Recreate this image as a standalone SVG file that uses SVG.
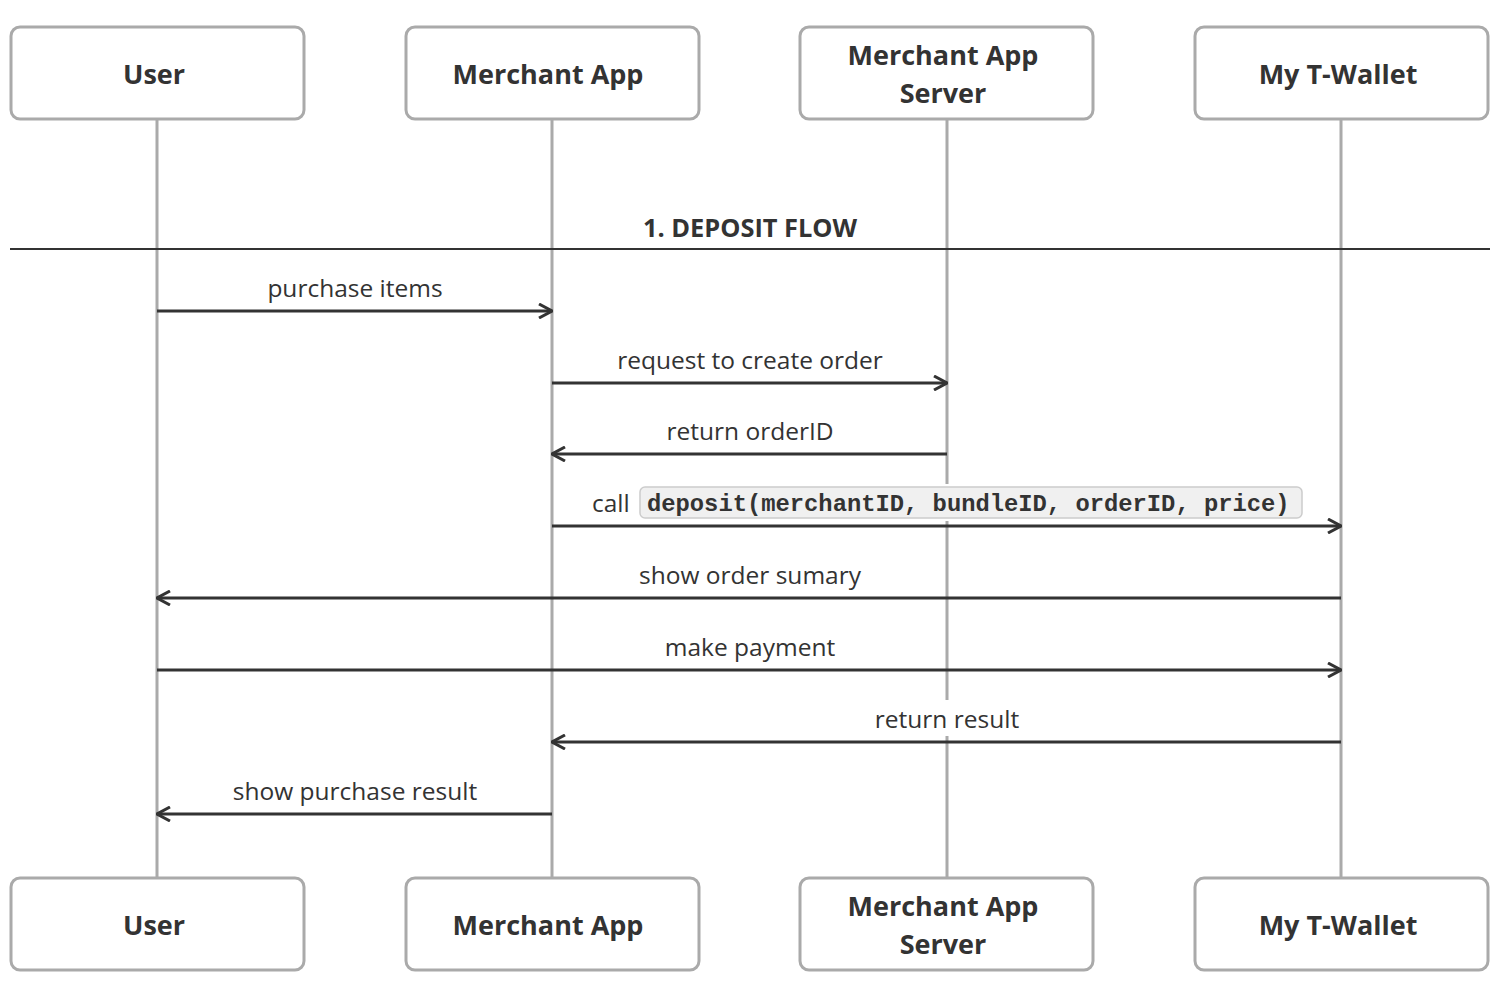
<svg xmlns="http://www.w3.org/2000/svg" width="1504" height="988" viewBox="0 0 1504 988">
<defs>
<style>
.box{fill:#fff;stroke:#aaa;stroke-width:3}
.life{stroke:#aaa;stroke-width:3}
.msg{stroke:#333;stroke-width:3;fill:none}
.nt{font-family:"Open Sans","Liberation Sans",sans-serif;font-weight:bold;font-size:27px;fill:#333;text-anchor:middle}
.lt{font-family:"Open Sans","Liberation Sans",sans-serif;font-size:24.5px;fill:#333;text-anchor:middle}
.code{font-family:"Liberation Mono",monospace;font-weight:bold;font-size:23.8px;fill:#333}
.bg{fill:#fff}
</style>
<marker id="ah" viewBox="0 0 16 16" refX="15" refY="8" markerWidth="16" markerHeight="16" markerUnits="userSpaceOnUse" orient="auto">
<path d="M2,1 L15,8 L2,15" fill="none" stroke="#333" stroke-width="3"/>
</marker>
</defs>
<rect width="1504" height="988" fill="#fff"/>
<g id="lifelines">
<line class="life" x1="157" y1="119" x2="157" y2="878"/>
<line class="life" x1="552" y1="119" x2="552" y2="878"/>
<line class="life" x1="947" y1="119" x2="947" y2="878"/>
<line class="life" x1="1341" y1="119" x2="1341" y2="878"/>
</g>
<g id="node-user-top"><rect class="box" x="11" y="27" width="293" height="92" rx="9"/><text class="nt" x="154" y="84">User</text></g>
<g id="node-app-top"><rect class="box" x="406" y="27" width="293" height="92" rx="9"/><text class="nt" x="548" y="84">Merchant App</text></g>
<g id="node-server-top"><rect class="box" x="800" y="27" width="293" height="92" rx="9"/><text class="nt" x="943" y="65">Merchant App</text><text class="nt" x="943" y="103">Server</text></g>
<g id="node-wallet-top"><rect class="box" x="1195" y="27" width="293" height="92" rx="9"/><text class="nt" x="1338" y="84">My T-Wallet</text></g>
<g id="node-user-bottom"><rect class="box" x="11" y="878" width="293" height="92" rx="9"/><text class="nt" x="154" y="935">User</text></g>
<g id="node-app-bottom"><rect class="box" x="406" y="878" width="293" height="92" rx="9"/><text class="nt" x="548" y="935">Merchant App</text></g>
<g id="node-server-bottom"><rect class="box" x="800" y="878" width="293" height="92" rx="9"/><text class="nt" x="943" y="916">Merchant App</text><text class="nt" x="943" y="954">Server</text></g>
<g id="node-wallet-bottom"><rect class="box" x="1195" y="878" width="293" height="92" rx="9"/><text class="nt" x="1338" y="935">My T-Wallet</text></g>
<g id="section">
<line x1="10" y1="249" x2="1490" y2="249" stroke="#333" stroke-width="2"/>
<text x="750" y="237" font-family="'Open Sans','Liberation Sans',sans-serif" font-weight="bold" font-size="25.4" fill="#333" text-anchor="middle">1. DEPOSIT FLOW</text>
</g>
<g id="connectors">
<line class="msg" x1="157" y1="311" x2="552" y2="311" marker-end="url(#ah)"/>
<text class="lt" x="355" y="297">purchase items</text>
<line class="msg" x1="552" y1="383" x2="947" y2="383" marker-end="url(#ah)"/>
<text class="lt" x="750" y="369">request to create order</text>
<line class="msg" x1="947" y1="454" x2="552" y2="454" marker-end="url(#ah)"/>
<text class="lt" x="750" y="440">return orderID</text>
<line class="msg" x1="552" y1="526" x2="1341" y2="526" marker-end="url(#ah)"/>
<rect class="bg" x="588" y="484" width="718" height="37"/>
<text class="lt" x="592" y="512" style="text-anchor:start">call</text>
<rect x="640" y="487" width="662" height="31" rx="5" fill="#f0f0f0" stroke="#ccc" stroke-width="1.5"/>
<text class="code" x="647" y="511">deposit(merchantID, bundleID, orderID, price)</text>
<line class="msg" x1="1341" y1="598" x2="157" y2="598" marker-end="url(#ah)"/>
<rect class="bg" x="630" y="561" width="240" height="30"/>
<text class="lt" x="750" y="584">show order sumary</text>
<line class="msg" x1="157" y1="670" x2="1341" y2="670" marker-end="url(#ah)"/>
<rect class="bg" x="656" y="633" width="188" height="30"/>
<text class="lt" x="750" y="656">make payment</text>
<line class="msg" x1="1341" y1="742" x2="552" y2="742" marker-end="url(#ah)"/>
<rect class="bg" x="866" y="700" width="162" height="36"/>
<text class="lt" x="947" y="728">return result</text>
<line class="msg" x1="552" y1="814" x2="157" y2="814" marker-end="url(#ah)"/>
<text class="lt" x="355" y="800">show purchase result</text>
</g>
</svg>
